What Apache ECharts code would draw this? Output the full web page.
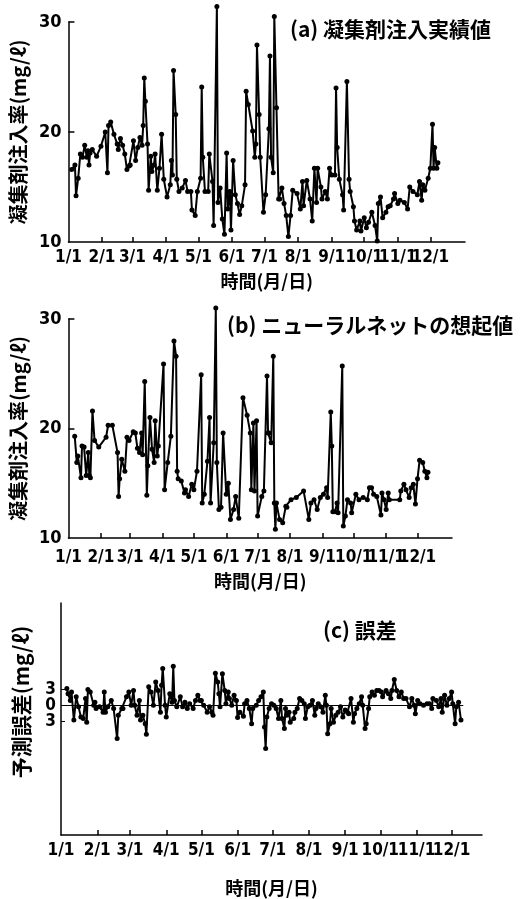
<!DOCTYPE html>
<html><head><meta charset="utf-8">
<script src="https://cdn.jsdelivr.net/npm/echarts@6/dist/echarts.min.js"></script>
<style>html,body{margin:0;padding:0;background:#fff;}#c{width:522px;height:899px;}</style>
</head><body><div id="c"></div>
<script>
// Month start days (day of year) and tick labels
const monthDays = [0,31,59,90,120,151,181,212,243,273,304,334];
const monthLabels = ['1/1','2/1','3/1','4/1','5/1','6/1','7/1','8/1','9/1','10/1','11/1','12/1'];
const yTicksAB = [10,20,30];
const yTicksC = [-3,0,3];

// (a) 凝集剤注入実績値 : [day, mg/l]
const actual = [[3,16.6],[6,17.0],[7,14.2],[9,15.8],[11,18.0],[13,17.7],[15,18.8],[17,17.7],[18,18.3],[19,17.0],[20,18.1],[22,18.4],[26,17.8],[30,18.7],[34,20.0],[36,16.3],[37,20.6],[39,20.9],[42,19.8],[45,18.9],[46,18.4],[48,19.4],[50,18.8],[52,18.0],[54,16.6],[56,16.9],[57,17.0],[60,19.2],[62,17.4],[64,18.6],[66,19.5],[68,18.8],[69,20.6],[70,24.9],[71,22.8],[73,18.9],[74,14.7],[76,17.8],[77,16.4],[79,17.0],[80,18.0],[82,14.7],[84,16.7],[86,19.8],[88,15.7],[91,14.1],[94,15.2],[95,17.4],[96,16.1],[97,25.6],[99,21.6],[100,15.7],[102,14.6],[105,14.9],[108,15.6],[110,14.6],[113,14.6],[114,12.9],[117,12.4],[119,14.6],[122,15.8],[123,24.1],[124,17.7],[126,14.6],[129,14.6],[130,18.0],[133,15.5],[134,11.5],[137,31.4],[138,13.6],[140,14.9],[142,12.1],[144,10.7],[146,18.1],[147,13.0],[149,14.6],[150,11.1],[152,17.4],[154,14.3],[156,13.5],[158,12.5],[160,13.3],[163,15.2],[164,23.7],[166,22.5],[170,20.1],[172,17.7],[173,18.9],[174,27.9],[176,21.6],[177,17.7],[180,12.7],[182,14.3],[185,20.3],[186,26.9],[187,17.7],[189,16.3],[190,30.5],[192,22.2],[194,13.9],[195,13.9],[197,14.9],[199,13.5],[201,12.4],[203,10.5],[205,12.4],[207,14.7],[211,14.4],[214,13.0],[216,15.5],[217,13.3],[220,15.6],[223,13.9],[225,11.9],[227,16.7],[229,13.6],[230,16.7],[233,15.0],[234,13.9],[237,14.6],[239,13.9],[241,16.7],[243,16.1],[246,16.1],[247,24.0],[248,18.6],[250,15.7],[253,14.3],[254,12.9],[257,24.6],[259,15.7],[260,14.6],[263,13.2],[264,11.9],[266,11.1],[269,11.9],[270,11.0],[273,12.2],[275,11.3],[277,11.8],[280,12.7],[283,11.5],[285,10.1],[286,13.5],[288,14.1],[290,12.2],[293,12.7],[295,13.2],[297,13.3],[300,13.9],[301,14.4],[304,13.5],[306,13.8],[310,13.6],[313,13.0],[315,15.0],[318,14.6],[322,14.3],[324,15.5],[326,13.8],[327,15.2],[329,14.7],[332,15.8],[334,16.7],[336,20.7],[337,16.7],[338,18.6],[340,16.7],[341,17.2]];

// (b) ニューラルネットの想起値 : [day, mg/l]
const recalled = [[6,19.3],[8,16.9],[9,17.5],[12,15.5],[13,18.4],[15,18.3],[17,15.7],[19,17.8],[20,15.7],[21,15.5],[23,21.6],[25,18.9],[29,18.3],[36,19.2],[38,20.3],[42,20.3],[47,17.8],[48,13.8],[49,15.4],[51,17.2],[54,16.1],[56,19.2],[58,18.9],[62,19.7],[64,19.6],[66,18.2],[68,17.8],[70,19.6],[71,17.6],[73,24.3],[75,13.9],[76,16.6],[78,21.0],[80,18.1],[82,16.9],[83,20.7],[85,17.5],[86,18.4],[91,25.9],[92,14.4],[95,16.9],[98,19.3],[101,28.0],[103,26.6],[104,16.1],[105,15.4],[108,15.2],[111,14.1],[112,14.4],[115,13.8],[118,14.9],[120,14.4],[123,16.1],[127,24.9],[128,13.2],[130,14.0],[133,17.0],[135,21.0],[136,13.2],[139,18.7],[141,31.0],[142,16.9],[144,12.6],[146,12.8],[148,19.6],[151,14.0],[153,15.0],[155,11.7],[158,12.6],[160,13.8],[163,11.8],[167,22.8],[171,21.2],[174,19.6],[175,14.4],[177,20.5],[178,14.3],[180,20.7],[181,12.0],[185,13.8],[187,14.3],[190,24.8],[191,19.6],[192,19.6],[194,18.7],[196,26.6],[197,13.2],[198,10.8],[199,13.2],[202,11.7],[205,11.4],[208,12.9],[209,12.8],[213,13.5],[218,13.7],[225,14.3],[230,11.7],[232,13.2],[235,13.5],[238,12.6],[241,13.7],[244,14.0],[247,14.6],[248,13.7],[251,21.5],[252,18.4],[253,12.4],[255,12.4],[257,13.2],[258,12.3],[262,25.7],[263,11.1],[265,12.0],[267,13.5],[270,13.2],[271,12.3],[275,14.0],[278,13.5],[282,13.7],[286,13.5],[288,14.6],[290,14.6],[292,14.0],[295,13.8],[299,12.1],[300,14.1],[302,13.5],[304,12.6],[306,14.1],[307,13.5],[317,13.5],[318,14.3],[321,14.9],[323,14.4],[326,13.7],[328,14.6],[330,14.9],[332,13.1],[334,15.4],[336,17.1],[339,16.9],[341,16.1],[343,15.5],[344,16.0]];

// (c) 誤差 : [day, mg/l]
const errorVals = [[5,3.2],[6,2.2],[8,0.9],[9,2.5],[11,-2.8],[13,1.6],[15,-0.3],[17,-2.2],[19,-2.5],[21,1.3],[22,-3.2],[23,3.0],[25,2.5],[28,0],[29,0.6],[30,-0.6],[33,-0.3],[36,-1.3],[37,2.5],[38,-1.3],[40,-0.3],[43,0.9],[45,-0.6],[48,-6.3],[49,-1.9],[52,-0.6],[53,-0.6],[56,1.6],[58,2.5],[60,0],[62,2.8],[63,0],[65,-1.9],[67,0.9],[68,-2.8],[70,-1.9],[72,-3.5],[73,-5.5],[75,3.5],[77,2.5],[79,0],[81,4.4],[83,2.8],[85,-1.3],[86,3.8],[87,7.0],[89,0],[90,-2.2],[93,2.2],[95,0.6],[96,7.4],[97,0.9],[99,-0.3],[102,1.6],[104,-0.3],[106,0.6],[108,-0.6],[110,0.3],[113,-0.6],[115,0.9],[117,1.9],[119,0.9],[120,0.9],[122,0],[125,-1.3],[127,-0.3],[129,-1.3],[130,-1.9],[132,6.1],[134,4.4],[135,2.2],[136,-0.3],[138,6.0],[140,2.8],[141,0.3],[143,2.5],[144,1.3],[146,0],[148,1.9],[150,0.9],[151,-2.3],[153,-1.3],[156,-2.1],[157,0.3],[159,0.9],[161,-0.6],[163,-3.5],[164,-0.6],[167,0],[169,0.9],[171,1.6],[173,2.5],[174,-4.1],[175,-8.2],[176,-2.2],[178,-0.6],[180,0.3],[182,0],[184,-0.6],[186,-2.5],[188,0.9],[189,-2.5],[191,-4.4],[192,-0.6],[193,-1.9],[195,-1.3],[196,-3.2],[199,-2.5],[200,-1.3],[202,-0.6],[204,1.3],[206,0.9],[208,0.3],[209,-2.5],[211,-0.3],[213,0],[215,0.9],[217,-1.9],[218,-0.6],[220,0.3],[222,-0.3],[224,-1.3],[226,1.9],[227,0],[228,-5.4],[230,-3.5],[231,-0.6],[233,-3.2],[235,-1.9],[237,-1.3],[239,-0.3],[241,-2.2],[243,-0.9],[245,-1.3],[246,-1.6],[248,1.3],[250,-3.2],[251,-1.6],[253,-0.6],[255,0.3],[257,1.6],[258,0],[260,-4.4],[261,-3.5],[263,-0.6],[264,1.6],[266,2.5],[268,1.9],[270,2.8],[272,2.8],[274,2.5],[275,1.6],[278,2.8],[280,2.2],[282,1.3],[283,2.8],[285,4.9],[287,2.8],[289,1.6],[291,2.5],[293,1.3],[295,1.3],[298,-0.3],[300,1.3],[302,0],[303,-1.6],[305,0.9],[307,0.3],[310,0],[313,0.3],[315,0.3],[317,-0.6],[318,1.3],[321,0.9],[323,-0.3],[325,1.3],[326,-1.3],[328,1.9],[330,0],[332,1.3],[334,2.5],[335,0.3],[337,-3.5],[338,-0.3],[340,0.6],[342,-2.8]];
const zeroLineEnd = 344;

const FONT_NUM = "'DejaVu Sans Condensed', sans-serif";
const FONT_JP = 'Noto Sans CJK JP';
const BLACK = '#000';

const evenDays = monthDays.filter((d, i) => i % 2 === 0);
const oddDays = monthDays.filter((d, i) => i % 2 === 1);
function monthFmt(v) { const i = monthDays.indexOf(v); return i >= 0 ? monthLabels[i] : ''; }
const numLabel = { fontFamily: FONT_NUM, fontWeight: 'bold', fontSize: 17, color: BLACK, hideOverlap: false };

// main x axis (line, ticks, name, even labels)
function xAxisMain(gridIndex, max, labelMargin, nameGap) {
  return {
    type: 'value', gridIndex: gridIndex, position: 'bottom', offset: 0, min: 0, max: max,
    name: '時間(月/日)', nameLocation: 'middle', nameGap: nameGap,
    nameTextStyle: { fontFamily: FONT_JP, fontWeight: 'bold', fontSize: 18, color: BLACK },
    axisLine: { show: true, onZero: false, lineStyle: { color: BLACK, width: 1.5 } },
    axisTick: { show: true, inside: true, length: 5, customValues: monthDays.slice(1), lineStyle: { color: BLACK, width: 1.5 } },
    axisLabel: Object.assign({ show: true, customValues: evenDays, margin: labelMargin, formatter: monthFmt }, numLabel),
    splitLine: { show: false }
  };
}
// label-only x axis on the same place (odd labels)
function xAxisAlt(gridIndex, max, labelMargin) {
  return {
    type: 'value', gridIndex: gridIndex, position: 'bottom', offset: 0, min: 0, max: max,
    axisLine: { show: false, onZero: false }, axisTick: { show: false },
    axisLabel: Object.assign({ show: true, customValues: oddDays, margin: labelMargin, formatter: monthFmt }, numLabel),
    splitLine: { show: false }
  };
}
function yAxisAB(gridIndex, nameGap) {
  return {
    type: 'value', gridIndex: gridIndex, min: 10, max: 30, interval: 10,
    name: '凝集剤注入率(mg/ℓ)', nameLocation: 'middle', nameGap: nameGap, nameRotate: 90,
    nameTextStyle: { fontFamily: FONT_JP, fontWeight: 'bold', fontSize: 20, color: BLACK },
    axisLine: { show: true, onZero: false, lineStyle: { color: BLACK, width: 1.5 } },
    axisTick: { show: true, inside: true, length: 6, customValues: [20, 30], lineStyle: { color: BLACK, width: 1.5 } },
    axisLabel: Object.assign({ show: true, customValues: yTicksAB, margin: 7 }, numLabel, { fontSize: 18 }),
    splitLine: { show: false }
  };
}
function lineSeries(idx, data) {
  return {
    type: 'line', xAxisIndex: idx * 2, yAxisIndex: idx, data: data,
    symbol: 'circle', symbolSize: 5, showSymbol: true, showAllSymbol: true,
    clip: false, animation: false,
    lineStyle: { color: BLACK, width: 2 },
    itemStyle: { color: BLACK },
    emphasis: { disabled: true }
  };
}

const chart = echarts.init(document.getElementById('c'), null, { renderer: 'canvas' });
const series = [lineSeries(0, actual), lineSeries(1, recalled), lineSeries(2, errorVals)];
series[2].markLine = {
  silent: true, symbol: 'none', animation: false,
  label: { show: false },
  lineStyle: { color: BLACK, width: 1, type: 'solid' },
  data: [[{ coord: [0, 0] }, { coord: [zeroLineEnd, 0] }]]
};

chart.setOption({
  backgroundColor: '#fff',
  animation: false,
  title: [
    { text: '(a) 凝集剤注入実績値', left: 290, top: 19, padding: 0,
      textStyle: { fontFamily: FONT_JP, fontWeight: 'bold', fontSize: 21, color: BLACK } },
    { text: '(b) ニューラルネットの想起値', left: 227, top: 315, padding: 0,
      textStyle: { fontFamily: FONT_JP, fontWeight: 'bold', fontSize: 21, color: BLACK } },
    { text: '(c) 誤差', left: 323, top: 620, padding: 0,
      textStyle: { fontFamily: FONT_JP, fontWeight: 'bold', fontSize: 21, color: BLACK } }
  ],
  grid: [
    { left: 68, top: 22, width: 397, height: 220 },
    { left: 63, top: 319, width: 389, height: 219 },
    { left: 61, top: 603, width: 421, height: 232 }
  ],
  xAxis: [
    xAxisMain(0, 366, 7, 30), xAxisAlt(0, 366, 7),
    xAxisMain(1, 367, 11, 34), xAxisAlt(1, 367, 11),
    xAxisMain(2, 360, 7, 44), xAxisAlt(2, 360, 7)
  ],
  yAxis: [
    yAxisAB(0, 36),
    yAxisAB(1, 31),
    {
      type: 'value', gridIndex: 2, position: 'left', offset: 0, min: -24.6, max: 19.4,
      name: '予測誤差(mg/ℓ)', nameLocation: 'middle', nameGap: 29, nameRotate: 90,
      nameTextStyle: { fontFamily: FONT_JP, fontWeight: 'bold', fontSize: 21, color: BLACK, padding: [0, 0, 0, 34] },
      axisLine: { show: true, onZero: false, lineStyle: { color: BLACK, width: 1.5 } },
      axisTick: { show: true, inside: true, length: 6, customValues: yTicksC, lineStyle: { color: BLACK, width: 1, type: 'dashed' } },
      axisLabel: Object.assign({ show: true, customValues: [yTicksC[0], yTicksC[2]], margin: 5,
        formatter: function (v) { return String(Math.abs(v)); } }, numLabel),
      splitLine: { show: false }
    },
    {
      type: 'value', gridIndex: 2, position: 'left', offset: 0, min: -24.6, max: 19.4,
      axisLine: { show: false, onZero: false }, axisTick: { show: false },
      axisLabel: Object.assign({ show: true, customValues: [yTicksC[1]], margin: 5,
        formatter: function (v) { return String(Math.abs(v)); } }, numLabel),
      splitLine: { show: false }
    }
  ],
  series: series
});
</script>
</body></html>
